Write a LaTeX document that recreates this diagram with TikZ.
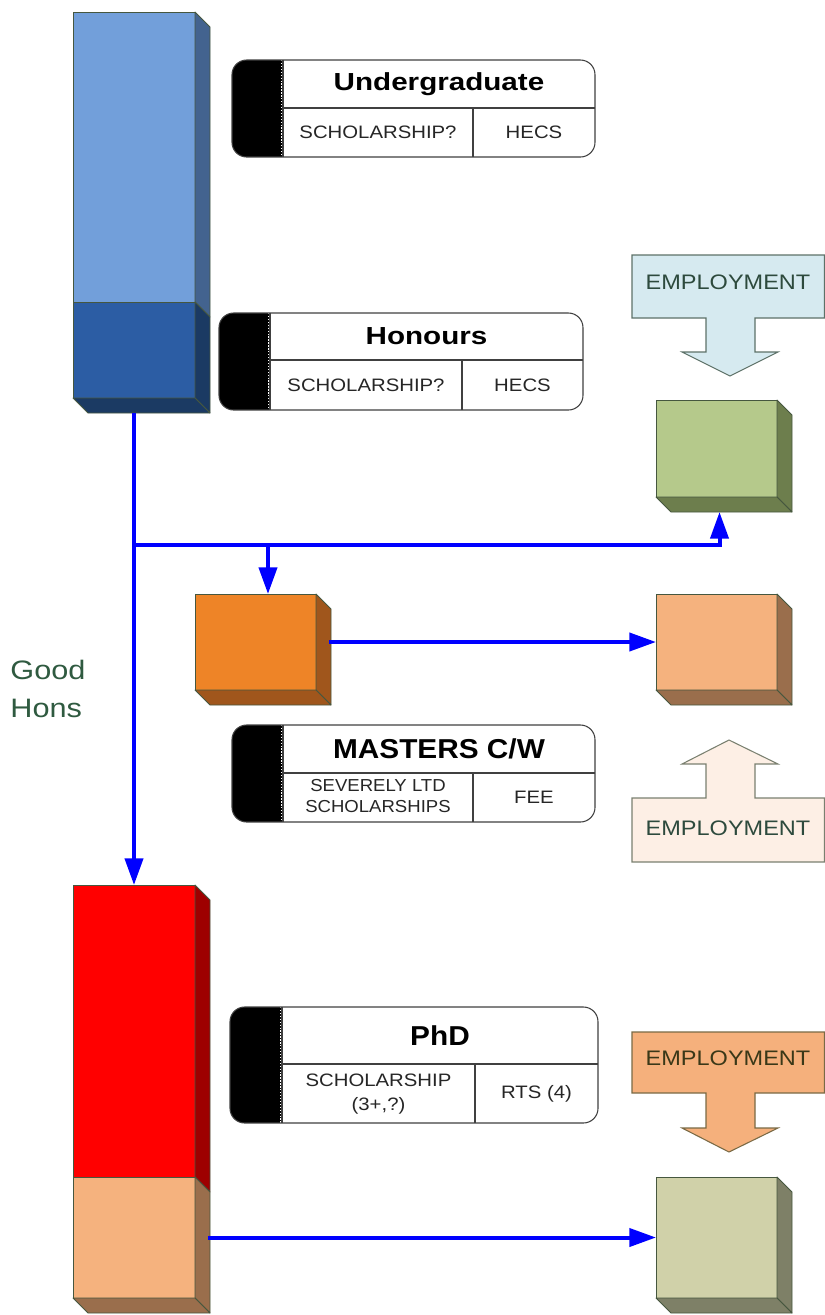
\documentclass[tikz,border=0pt]{standalone}
\usepackage{fontspec}
\setmainfont{Liberation Sans}
\usepackage{graphicx}
\usetikzlibrary{arrows.meta}
\definecolor{blueTop}{HTML}{729FDA}
\definecolor{blueTopSide}{HTML}{43638F}
\definecolor{blueLow}{HTML}{2C5DA4}
\definecolor{blueLowSide}{HTML}{1B3A63}
\definecolor{redTop}{HTML}{FF0000}
\definecolor{redSide}{HTML}{9E0000}
\definecolor{peachLow}{HTML}{F5B27E}
\definecolor{peachSide}{HTML}{9A6E4C}
\definecolor{greenF}{HTML}{B5C98B}
\definecolor{greenSide}{HTML}{6D7E4D}
\definecolor{orangeF}{HTML}{EE8427}
\definecolor{orangeSide}{HTML}{A0561C}
\definecolor{khakiF}{HTML}{D0D1A9}
\definecolor{khakiSide}{HTML}{7E8067}
\definecolor{edgeC}{HTML}{46573F}
\definecolor{empOneF}{HTML}{D6EAF0}
\definecolor{empOneE}{HTML}{5D7168}
\definecolor{empOneT}{HTML}{2D4A3D}
\definecolor{empTwoF}{HTML}{FDEFE5}
\definecolor{empTwoE}{HTML}{7A8070}
\definecolor{empThreeF}{HTML}{F5B07C}
\definecolor{empThreeE}{HTML}{7A6A45}
\definecolor{empThreeT}{HTML}{3A3818}
\definecolor{honsT}{HTML}{2F5A40}
\definecolor{flowC}{HTML}{0000FF}
\newcommand\sx[2][1.13]{\scalebox{#1}[1]{#2}}
\newcommand\mkcube[7]{%
  \node[face, fill=#6, minimum width={#4*0.75pt}, minimum height={#5*0.75pt}] (#1) at (#2,#3) {};
  \draw[facedge, fill=#7] (#1.north east) -- ++(15,15) -- ([shift={(15,15)}]#1.south east) -- (#1.south east) -- cycle;
  \draw[facedge, fill=#7] (#1.south west) -- ([shift={(15,15)}]#1.south west) -- ([shift={(15,15)}]#1.south east) -- (#1.south east) -- cycle;
}
\newcommand\mkside[2]{%
  \draw[facedge, fill=#2] (#1.north east) -- ++(15,15) -- ([shift={(15,15)}]#1.south east) -- (#1.south east) -- cycle;
}
\newcommand\mkinfo[8]{%
  \node[infoframe, minimum width={(#4-#2)*0.75pt}, minimum height={(#5-#3)*0.75pt}] (#1) at (#2,#3) {};
  \begin{scope}
    \clip[rounded corners=11pt] (#2,#3) rectangle (#4,#5);
    \fill[black] (#2,#3) rectangle (#6,#5);
  \end{scope}
  \draw[white, line width=1pt, dash pattern=on 1pt off 1.2pt] (#6-1.5,#3) -- (#6-1.5,#5);
  \draw[infoline] (#6,#3) -- (#6,#5);
  \draw[infoline] (#6,#7) -- (#4,#7);
  \draw[infoline] (#8,#7) -- (#8,#5);
  \draw[infoline, rounded corners=11pt] (#2,#3) rectangle (#4,#5);
}
\begin{document}
\begin{tikzpicture}[x=0.75pt,y=-0.75pt,
  face/.style={draw=edgeC, line width=0.6pt, inner sep=0pt, outer sep=0pt, anchor=north west},
  facedge/.style={draw=edgeC, line width=0.6pt, line join=round},
  infoframe/.style={fill=white, inner sep=0pt, outer sep=0pt, anchor=north west, rounded corners=11pt},
  infoline/.style={draw=black!75, line width=0.8pt},
  ttl/.style={font=\fontsize{18.5}{22}\selectfont\bfseries, inner sep=0pt},
  ttlb/.style={font=\fontsize{20.5}{24}\selectfont\bfseries, inner sep=0pt},
  cell/.style={font=\fontsize{13.5}{18}\selectfont, text=black!85, inner sep=0pt},
  emptxt/.style={font=\fontsize{15.75}{18}\selectfont, inner sep=0pt},
  flow/.style={draw=flowC, line width=3pt, -{Triangle[length=20pt,width=13.5pt]}}
]
\useasboundingbox (0,0) rectangle (825,1315);

% ---------- blue column (Undergraduate / Honours) ----------
\node[face, fill=blueTop, minimum width={122*0.75pt}, minimum height={290*0.75pt}] (ugcol) at (73,12) {};
\mkside{ugcol}{blueTopSide}
\mkcube{honscol}{73}{302}{122}{96}{blueLow}{blueLowSide}

% ---------- red column (PhD) ----------
\node[face, fill=redTop, minimum width={122*0.75pt}, minimum height={292*0.75pt}] (phdcol) at (73,885) {};
\mkside{phdcol}{redSide}
\mkcube{phdend}{73}{1177}{122}{121}{peachLow}{peachSide}

% ---------- other cubes ----------
\mkcube{greenbox}{656}{400}{121}{97}{greenF}{greenSide}
\mkcube{orangebox}{195}{594}{121}{96}{orangeF}{orangeSide}
\mkcube{peachbox}{656}{594}{121}{96}{peachLow}{peachSide}
\mkcube{khakibox}{656}{1177}{121}{121}{khakiF}{khakiSide}

% ---------- info boxes ----------
\mkinfo{ugbox}{232}{60}{595}{157}{283}{108}{473}
\node[ttl] (ugtitle) at (439,84) {\sx[1.2]{Undergraduate}};
\node[cell] (ugschol) at (378,132.5) {\sx{SCHOLARSHIP?}};
\node[cell] (ughecs) at (534,132.5) {\sx{HECS}};

\mkinfo{honsbox}{219}{313}{583}{410}{270}{360}{462}
\node[ttl] (honstitle) at (426.5,336.5) {\sx[1.2]{Honours}};
\node[cell] (honsschol) at (366,385) {\sx{SCHOLARSHIP?}};
\node[cell] (honshecs) at (522.5,385) {\sx{HECS}};

\mkinfo{mastbox}{232}{725}{595}{822}{283}{773}{473}
\node[ttlb] (masttitle) at (439,749) {\sx[1.09]{MASTERS C/W}};
\node[cell, font=\fontsize{13}{16}\selectfont] (mastschol) at (378,797.5) {\sx[1.07]{\begin{tabular}{@{}c@{}}SEVERELY LTD\\SCHOLARSHIPS\end{tabular}}};
\node[cell] (mastfee) at (534,797.5) {\sx{FEE}};

\mkinfo{phdbox}{230}{1007}{598}{1123}{282}{1064}{475}
\node[ttlb] (phdtitle) at (440,1035.5) {\sx[1.09]{PhD}};
\node[cell] (phdschol) at (378.5,1093.5) {\sx{\begin{tabular}{@{}c@{}}SCHOLARSHIP\\(3+,?)\end{tabular}}};
\node[cell] (phdrts) at (536.5,1093.5) {\sx{RTS (4)}};

% ---------- employment arrows ----------
\draw[draw=empOneE, fill=empOneF, line width=0.8pt, line join=miter]
  (632,255) -- (824.5,255) -- (824.5,318) -- (755,318) -- (755,352) -- (778,352) -- (730,376)
  -- (682,352) -- (706,352) -- (706,318) -- (632,318) -- cycle;
\node[emptxt, text=empOneT] (emp1) at (728,282) {\sx[1.12]{EMPLOYMENT}};

\draw[draw=empTwoE, fill=empTwoF, line width=0.8pt, line join=miter]
  (632,862) -- (824.5,862) -- (824.5,798) -- (755,798) -- (755,764) -- (778,764) -- (729,740)
  -- (682,764) -- (706,764) -- (706,798) -- (632,798) -- cycle;
\node[emptxt, text=empOneT] (emp2) at (728,828) {\sx[1.12]{EMPLOYMENT}};

\draw[draw=empThreeE, fill=empThreeF, line width=0.8pt, line join=miter]
  (632,1032) -- (824.5,1032) -- (824.5,1093) -- (755,1093) -- (755,1128) -- (778,1128) -- (729,1152)
  -- (682,1128) -- (706,1128) -- (706,1093) -- (632,1093) -- cycle;
\node[emptxt, text=empThreeT] (emp3) at (728,1058) {\sx[1.12]{EMPLOYMENT}};

% ---------- Good Hons ----------
\node[font=\fontsize{20}{28.5}\selectfont, text=honsT, align=left, inner sep=0pt] (goodhons) at (48,689) {\sx[1.15]{Good}\\\sx[1.15]{Hons}};

% ---------- connectors ----------
\coordinate (hbase) at ([shift={(0,15)}]honscol.south);
\coordinate (j1) at (hbase |- 0,545);
\coordinate (j2) at (268,545);
\draw[flow] (hbase) -- (phdcol.north);
\draw[flow] (j1) -| ([shift={(3,15)}]greenbox.south);
\draw[flow] (j2) -- (j2 |- orangebox.north);
\draw[flow] ([shift={(13,0)}]orangebox.east) -- (peachbox.west);
\draw[flow] ([shift={(13,0)}]phdend.east) -- (khakibox.west);
\end{tikzpicture}
\end{document}
